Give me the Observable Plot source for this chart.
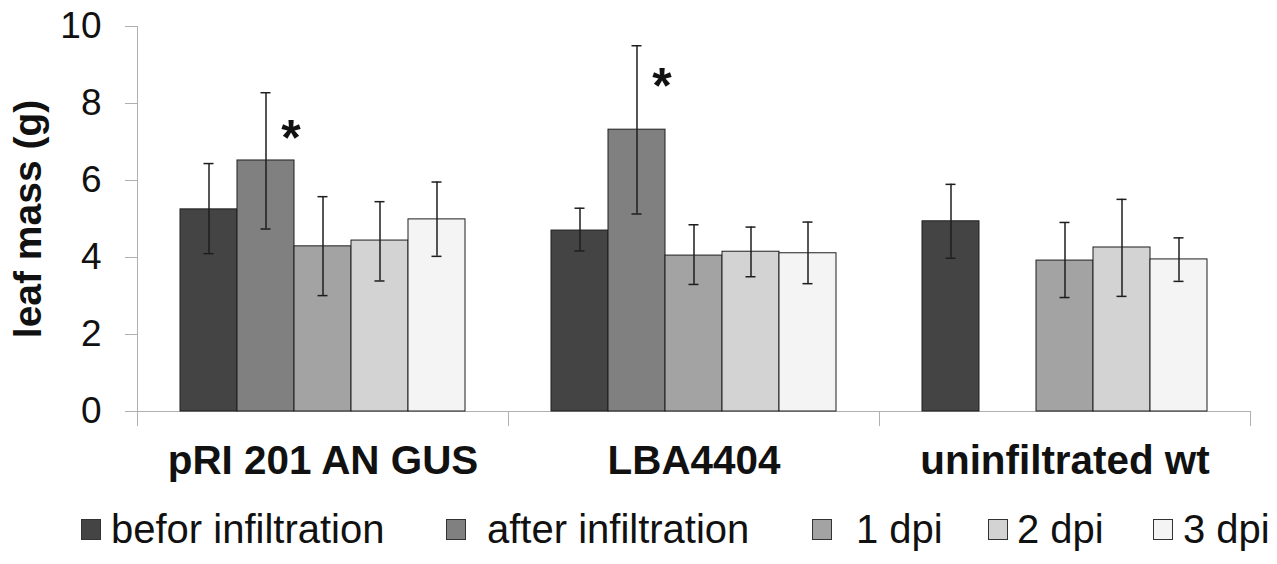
<!DOCTYPE html>
<html><head><meta charset="utf-8">
<script src="https://cdn.jsdelivr.net/npm/d3@7"></script>
<script src="https://cdn.jsdelivr.net/npm/@observablehq/plot@0.6"></script>
<style>
body{margin:0;background:#fff;}
#wrap{position:relative;width:1277px;height:564px;font-family:"Liberation Sans",Arial,sans-serif;overflow:hidden;}
#legend{position:absolute;left:0;top:506px;height:46px;width:1277px;}
.item{position:absolute;top:0;display:flex;align-items:center;height:46px;font-size:40px;line-height:46px;color:#111;white-space:pre;}
.sw{box-sizing:border-box;width:20px;height:21px;border:1px solid #333;flex:none;}
</style></head><body><div id="wrap"><div id="chart"></div><div id="legend"></div></div>
<script>
// ---- data ----
const groups = ["pRI 201 AN GUS", "LBA4404", "uninfiltrated wt"];
const series = ["befor infiltration", "after infiltration", "1 dpi", "2 dpi", "3 dpi"];
const meanPRI = [5.25, 6.52, 4.29, 4.44, 4.99];
const meanLBA = [4.70, 7.32, 4.05, 4.15, 4.11];
const meanWT  = [4.94, null, 3.92, 4.26, 3.95];
const highPRI = [6.44, 8.28, 5.58, 5.45, 5.96];
const highLBA = [5.28, 9.50, 4.85, 4.79, 4.92];
const highWT  = [5.90, null, 4.91, 5.51, 4.51];
const lowPRI  = [4.10, 4.74, 3.01, 3.39, 4.03];
const lowLBA  = [4.17, 5.13, 3.30, 3.50, 3.32];
const lowWT   = [3.98, null, 2.96, 2.99, 3.38];
const yTicks = [0, 2, 4, 6, 8, 10];
const sigGroups = ["pRI 201 AN GUS", "LBA4404"];
const sigSeries = "after infiltration";
const sigY = [7.38, 8.73];
const yLabel = "leaf mass (g)";

// ---- styles ----
const fills = ["#444444", "#808080", "#a3a3a3", "#d3d3d3", "#f4f4f4"];
const axisGray = "#b0b0b0";
const ink = "#1e1e1e";

// ---- table ----
const means = [meanPRI, meanLBA, meanWT];
const highs = [highPRI, highLBA, highWT];
const lows = [lowPRI, lowLBA, lowWT];
const rows = [];
groups.forEach((g, gi) => series.forEach((s, si) => {
  if (means[gi][si] != null) rows.push({group: g, series: s, mean: means[gi][si], hi: highs[gi][si], lo: lows[gi][si]});
}));
const sig = sigGroups.map((g, i) => ({group: g, series: sigSeries, y: sigY[i]}));

const chart = Plot.plot({
  width: 1277, height: 490,
  marginLeft: 136, marginRight: 26, marginTop: 26, marginBottom: 65,
  style: {fontFamily: "'Liberation Sans', Arial, sans-serif", background: "#fff", color: "#111"},
  fx: {domain: groups, padding: 0, label: null},
  x: {domain: series, paddingInner: 0, paddingOuter: 0.74, axis: null},
  y: {domain: [0, 10], range: [411, 26]},
  color: {domain: series, range: fills},
  marks: [
    Plot.frame({anchor: "left", stroke: axisGray, facetAnchor: "left"}),
    Plot.frame({anchor: "left", stroke: axisGray, insetTop: 385}),
    Plot.frame({anchor: "right", stroke: axisGray, insetTop: 385}),
    Plot.ruleY([0], {stroke: axisGray}),
    Plot.barY(rows, {fx: "group", x: "series", y: "mean", fill: "series", stroke: ink, strokeWidth: 1}),
    Plot.ruleX(rows, {fx: "group", x: "series", y1: "lo", y2: "hi", stroke: ink, strokeWidth: 1.5}),
    Plot.tickY(rows, {fx: "group", x: "series", y: "hi", stroke: ink, strokeWidth: 1.5, insetLeft: 23.5, insetRight: 23.5}),
    Plot.tickY(rows, {fx: "group", x: "series", y: "lo", stroke: ink, strokeWidth: 1.5, insetLeft: 23.5, insetRight: 23.5}),
    Plot.text(sig, {fx: "group", x: "series", y: "y", text: () => "*", dx: 25, dy: 12, fontSize: 50, fontWeight: "bold", fill: "#111"}),
    Plot.axisY({ticks: yTicks, tickSize: 12, tickPadding: 24, fontSize: 37, stroke: axisGray, fill: "#111", label: null}),
    Plot.text([yLabel], {frameAnchor: "left", textAnchor: "middle", lineAnchor: "middle", rotate: -90, dx: -109, dy: -7, fontSize: 39, fontWeight: "bold", fill: "#111", facetAnchor: "left"}),
    Plot.axisFx({anchor: "bottom", tickSize: 0, tickPadding: 20, fontSize: 40.4, fontWeight: "bold", fill: "#111", label: null})
  ]
});
document.getElementById("chart").appendChild(chart);

// ---- legend (HTML, below the SVG) ----
const legendLeft = [81, 446, 812, 988, 1153];
const legendGap = [10, 21, 24, 9, 10];
const legend = document.getElementById("legend");
series.forEach((s, i) => {
  const item = document.createElement("div");
  item.className = "item";
  item.style.left = legendLeft[i] + "px";
  const sw = document.createElement("span");
  sw.className = "sw";
  sw.style.background = fills[i];
  const tx = document.createElement("span");
  tx.style.marginLeft = legendGap[i] + "px";
  tx.textContent = s;
  item.appendChild(sw);
  item.appendChild(tx);
  legend.appendChild(item);
});
</script>
</body></html>
